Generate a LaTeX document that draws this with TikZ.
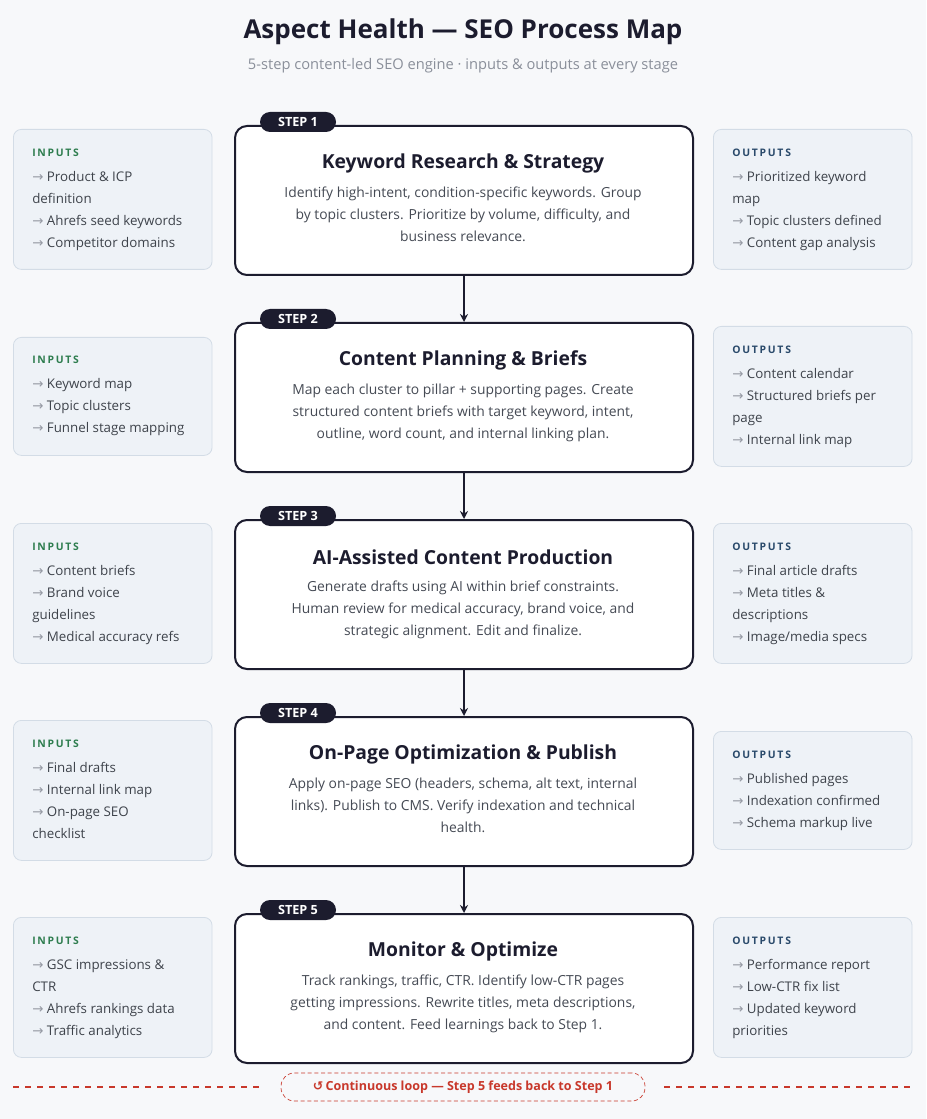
\documentclass[tikz,border=0pt]{standalone}
\usepackage{fontspec}
\setmainfont{Open Sans}
\newfontfamily\symf{DejaVu Sans}
\usetikzlibrary{arrows.meta}
\definecolor{bg}{HTML}{F7F8FA}
\definecolor{ink}{HTML}{1C1C2E}
\definecolor{sub}{HTML}{8A8F9A}
\definecolor{body}{HTML}{454A54}
\definecolor{sidefill}{HTML}{EEF2F7}
\definecolor{sidedraw}{HTML}{D3DCE6}
\definecolor{ingreen}{HTML}{2E7D4F}
\definecolor{outblue}{HTML}{2A4A6B}
\definecolor{loopred}{HTML}{C8382B}
\newcommand\ar{{\symf\color{sub!90}\fontsize{10}{10}\selectfont→}\ }
\newcommand\mkstep[5]{%
  \node[stepbox, minimum height=#5] (step#1) at (234,#2) {};
  \node[pill] (pill#1) at (298,{#2-3}) {STEP #1};
  \node[steptitle] (title#1) at (463,{#2+38}) {#3};
  \node[stepdesc, anchor=north] (desc#1) at (463,{#2+62}) {#4};
}
\begin{document}
\begin{tikzpicture}[x=0.75pt,y=-0.75pt,
  stepbox/.style={draw=ink, line width=1.5pt, fill=white, rounded corners=9pt, anchor=north west, minimum width=343.5pt, inner sep=0pt},
  pill/.style={fill=ink, text=white, rounded corners=7.5pt, minimum width=57pt, minimum height=15pt, inner sep=0pt, font=\bfseries\fontsize{9.5}{10}\selectfont},
  steptitle/.style={font=\bfseries\fontsize{14.5}{16}\selectfont, text=ink, inner sep=0pt},
  stepdesc/.style={font=\fontsize{10.4}{16.5}\selectfont, text=body, align=center, inner sep=0pt},
  side/.style={draw=sidedraw, line width=0.6pt, fill=sidefill, rounded corners=6pt, anchor=north west, minimum width=149pt, inner sep=0pt},
  sidehead/.style={font=\bfseries\fontsize{7.8}{9}\selectfont, anchor=west, inner sep=0pt},
  items/.style={font=\fontsize{10}{16.5}\selectfont, text=body!90!black, align=left, anchor=north west, inner sep=0pt},
  flow/.style={-{Stealth[length=6pt,width=6pt]}, draw=ink, line width=1.4pt}
]
\fill[bg] (0,0) rectangle (926,1119);
\path[use as bounding box] (0,0) rectangle (926,1119);
\node[font=\bfseries\fontsize{19.5}{22}\selectfont, text=ink] (title) at (463,32) {Aspect Health — SEO Process Map};
\node[font=\fontsize{11}{13}\selectfont, text=sub] (subtitle) at (463,66) {5-step content-led SEO engine · inputs \& outputs at every stage};

\mkstep{1}{125}{Keyword Research \& Strategy}{Identify high-intent, condition-specific keywords. Group\\by topic clusters. Prioritize by volume, difficulty, and\\business relevance.}{111.75pt}
\mkstep{2}{322}{Content Planning \& Briefs}{Map each cluster to pillar + supporting pages. Create\\structured content briefs with target keyword, intent,\\outline, word count, and internal linking plan.}{111.75pt}
\mkstep{3}{519}{AI-Assisted Content Production}{Generate drafts using AI within brief constraints.\\Human review for medical accuracy, brand voice, and\\strategic alignment. Edit and finalize.}{111.75pt}
\mkstep{4}{716}{On-Page Optimization \& Publish}{Apply on-page SEO (headers, schema, alt text, internal\\links). Publish to CMS. Verify indexation and technical\\health.}{111.75pt}
\mkstep{5}{913}{Monitor \& Optimize}{Track rankings, traffic, CTR. Identify low-CTR pages\\getting impressions. Rewrite titles, meta descriptions,\\and content. Feed learnings back to Step 1.}{111.75pt}

\draw[flow] (step1.south) -- (step2.north);
\draw[flow] (step2.south) -- (step3.north);
\draw[flow] (step3.south) -- (step4.north);
\draw[flow] (step4.south) -- (step5.north);

% inputs
\node[side, minimum height=105pt] (in1) at (13,129) {};
\node[sidehead, text=ingreen] (inh1) at (32,153) {I\,N\,P\,U\,T\,S};
\node[items] (ini1) at (32,171) {\ar Product \& ICP\\definition\\\ar Ahrefs seed keywords\\\ar Competitor domains};
\node[side, minimum height=88.5pt] (in2) at (13,337) {};
\node[sidehead, text=ingreen] (inh2) at (32,360) {I\,N\,P\,U\,T\,S};
\node[items] (ini2) at (32,378) {\ar Keyword map\\\ar Topic clusters\\\ar Funnel stage mapping};
\node[side, minimum height=105pt] (in3) at (13,523) {};
\node[sidehead, text=ingreen] (inh3) at (32,547) {I\,N\,P\,U\,T\,S};
\node[items] (ini3) at (32,565) {\ar Content briefs\\\ar Brand voice\\guidelines\\\ar Medical accuracy refs};
\node[side, minimum height=105pt] (in4) at (13,720) {};
\node[sidehead, text=ingreen] (inh4) at (32,744) {I\,N\,P\,U\,T\,S};
\node[items] (ini4) at (32,762) {\ar Final drafts\\\ar Internal link map\\\ar On-page SEO\\checklist};
\node[side, minimum height=105pt] (in5) at (13,917) {};
\node[sidehead, text=ingreen] (inh5) at (32,941) {I\,N\,P\,U\,T\,S};
\node[items] (ini5) at (32,959) {\ar GSC impressions \&\\CTR\\\ar Ahrefs rankings data\\\ar Traffic analytics};

% outputs
\node[side, minimum height=105pt] (out1) at (713,129) {};
\node[sidehead, text=outblue] (outh1) at (732,153) {O\,U\,T\,P\,U\,T\,S};
\node[items] (outi1) at (732,171) {\ar Prioritized keyword\\map\\\ar Topic clusters defined\\\ar Content gap analysis};
\node[side, minimum height=105pt] (out2) at (713,326) {};
\node[sidehead, text=outblue] (outh2) at (732,350) {O\,U\,T\,P\,U\,T\,S};
\node[items] (outi2) at (732,368) {\ar Content calendar\\\ar Structured briefs per\\page\\\ar Internal link map};
\node[side, minimum height=105pt] (out3) at (713,523) {};
\node[sidehead, text=outblue] (outh3) at (732,547) {O\,U\,T\,P\,U\,T\,S};
\node[items] (outi3) at (732,565) {\ar Final article drafts\\\ar Meta titles \&\\descriptions\\\ar Image/media specs};
\node[side, minimum height=88.5pt] (out4) at (713,731) {};
\node[sidehead, text=outblue] (outh4) at (732,755) {O\,U\,T\,P\,U\,T\,S};
\node[items] (outi4) at (732,773) {\ar Published pages\\\ar Indexation confirmed\\\ar Schema markup live};
\node[side, minimum height=105pt] (out5) at (713,917) {};
\node[sidehead, text=outblue] (outh5) at (732,941) {O\,U\,T\,P\,U\,T\,S};
\node[items] (outi5) at (732,959) {\ar Performance report\\\ar Low-CTR fix list\\\ar Updated keyword\\priorities};

% loop
\node[draw=loopred, densely dashed, line width=0.5pt, fill=bg, rounded corners=10pt, minimum width=273pt, minimum height=21pt, inner sep=0pt, text=loopred, font=\fontsize{9.4}{11}\selectfont\bfseries] (loop) at (463,1087) {{\symf ↺}\,Continuous loop — Step 5 feeds back to Step 1};
\coordinate (l1) at (13,1087);
\coordinate (r1) at (910,1087);
\draw[loopred, line width=2pt, dash pattern=on 4.5pt off 4.5pt] (l1) -- ([xshift=-14pt]loop.west);
\draw[loopred, line width=2pt, dash pattern=on 4.5pt off 4.5pt] ([xshift=14pt]loop.east) -- (r1);
\end{tikzpicture}
\end{document}
